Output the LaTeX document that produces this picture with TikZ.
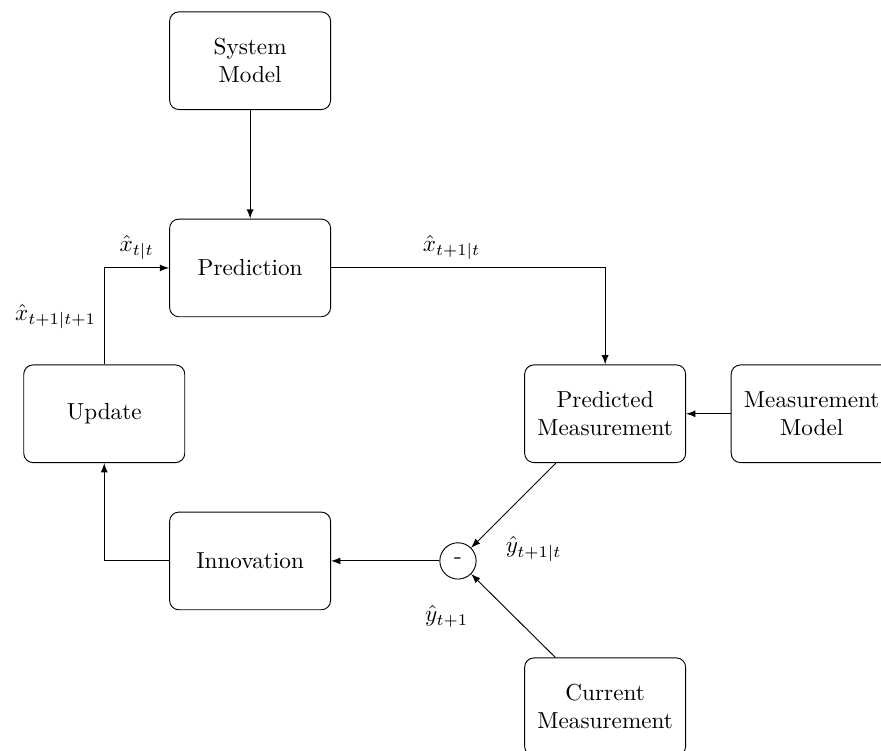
\documentclass[tikz,border=0pt]{standalone}
\usetikzlibrary{arrows.meta}

\tikzset{
    block/.style={draw, rounded corners, align=center,
        minimum width=2.44cm, minimum height=1.48cm},
    junction/.style={draw, circle, inner sep=0pt, minimum size=0.55cm}
}

\begin{document}
\begin{tikzpicture}

    \useasboundingbox (0,0) rectangle (13.35,-11.38);

    % system model
    \node[block] (sys) at (3.79,-0.92) {System\\Model};

    % prediction step
    \node[block] (pred) at (3.79,-4.06) {Prediction};
    \draw[-{latex}] (sys) to (pred);

    % update step
    \node[block] (upd) at (1.58,-6.27) {Update};
    \draw[-{latex}] (upd.north) |- (pred.west)
        node[pos=0.75, above] {$\hat{x}_{t|t}$}
        node[pos=0.25, left] {$\hat{x}_{t+1|t+1}$};

    % predicted measurement
    \node[block] (pm) at (9.17,-6.27) {Predicted\\Measurement};
    \draw[-{latex}] (pred.east) -| (pm.north)
        node[pos=0.22, above] {$\hat{x}_{t+1|t}$};

    % measurement model
    \node[block] (mm) at (12.30,-6.27) {Measurement\\Model};
    \draw[-{latex}] (mm) to (pm);

    % difference of the two measurements
    \node[junction] (diff) at (6.94,-8.50) {-};
    \draw[-{latex}] (pm) to node[pos=0.85, right, xshift=6pt, yshift=-6pt] {$\hat{y}_{t+1|t}$} (diff);

    % current measurement
    \node[block] (cur) at (9.17,-10.71) {Current\\Measurement};
    \draw[-{latex}] (cur) to node[pos=0.8, below left, xshift=-5pt, yshift=-3pt] {$\hat{y}_{t+1}$} (diff);

    % innovation
    \node[block] (innov) at (3.79,-8.50) {Innovation};
    \draw[-{latex}] (diff) to (innov);
    \draw[-{latex}] (innov.west) -| (upd.south);

\end{tikzpicture}
\end{document}
